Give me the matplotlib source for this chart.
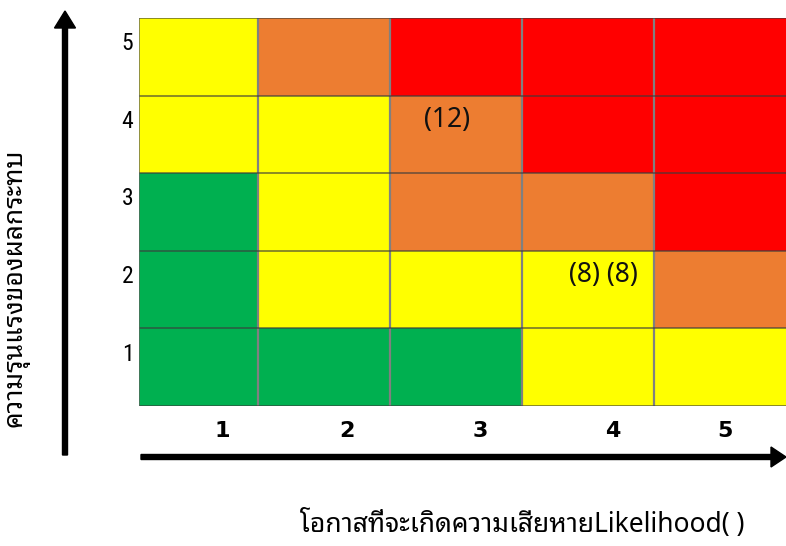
import matplotlib
matplotlib.use("Agg")
import matplotlib.pyplot as plt
import numpy as np
from matplotlib.colors import ListedColormap
from matplotlib.patches import FancyArrow

# risk matrix data: rows = impact 1..5 (bottom to top), cols = likelihood 1..5
likelihood = ["1", "2", "3", "4", "5"]
impact = ["1", "2", "3", "4", "5"]
levels = ["low", "medium", "high", "extreme"]
level_colors = ["#00B050", "#FFFF00", "#ED7D31", "#FF0000"]
risk = [
    ["low", "low", "low", "medium", "medium"],
    ["low", "medium", "medium", "medium", "high"],
    ["low", "medium", "high", "high", "extreme"],
    ["medium", "medium", "high", "extreme", "extreme"],
    ["medium", "high", "extreme", "extreme", "extreme"],
]
notes = ["(12)", "(8) (8)"]
note_cells = [(3, 4), (4, 2)]  # (likelihood, impact)

x_title = "โอกาสที่จะเกิดความเสียหายLikelihood( )"
y_title = "ความรุนแรงของผลกระทบ"

# layout
W, H = 786, 546
col_edges = [0, 0.92, 1.94, 2.96, 3.98, 5.0]
xlabel_pos = [0.64, 1.61, 2.64, 3.66, 4.53]
note_frac = [(0.43, 0.69), (0.62, 0.69)]
thai = ["Noto Sans Thai Looped", "Noto Sans", "DejaVu Sans"]

grid = np.array([[levels.index(v) for v in row] for row in risk])

fig = plt.figure(figsize=(W / 100, H / 100), dpi=100)
ax = fig.add_axes([139 / W, (H - 406) / H, (W - 139) / W, (406 - 18) / H])
ax.pcolormesh(col_edges, np.arange(6), grid, cmap=ListedColormap(level_colors),
              vmin=-0.5, vmax=3.5)
for x in col_edges[1:-1]:
    ax.axvline(x, color="#808080", lw=1.6)
for y in range(0, 6):
    ax.axhline(y, color="#3c3c3c", lw=1.4, alpha=0.6)
ax.axvline(0, color="#606060", lw=1.4, alpha=0.7)
ax.set_xlim(0, 5)
ax.set_ylim(0, 5)
for s in ax.spines.values():
    s.set_visible(False)

ax.set_xticks(xlabel_pos, likelihood, fontsize=16, fontweight="bold")
ax.set_yticks(np.arange(len(impact)) + 0.7, impact, fontsize=17,
              family=["Roboto Condensed", "DejaVu Sans"])
ax.tick_params(axis="x", length=0, pad=11)
ax.tick_params(axis="y", length=0, pad=4)

for txt, (c, r), (fx, fy) in zip(notes, note_cells, note_frac):
    x0 = col_edges[c - 1]
    x1 = col_edges[c]
    ax.text(x0 + fx * (x1 - x0), r - 1 + fy, txt, ha="center", va="center",
            fontsize=19, family=["Noto Sans", "DejaVu Sans"], color="#111111")

# arrows and titles drawn in pixel space
ov = fig.add_axes([0, 0, 1, 1], zorder=-1)
ov.set_xlim(0, W)
ov.set_ylim(H, 0)
ov.axis("off")
ov.add_patch(FancyArrow(65, 455, 0, -444, width=5, head_width=21, head_length=17,
                        length_includes_head=True, color="black"))
ov.add_patch(FancyArrow(141, 457, 645, 0, width=5, head_width=20, head_length=15,
                        length_includes_head=True, color="black"))

fig.text(522 / W, 1 - 525 / H, x_title, ha="center", va="center",
         fontsize=19, family=thai)
fig.text(16 / W, 1 - 288 / H, y_title, ha="center", va="center",
         rotation=90, fontsize=19, family=thai)

fig.savefig("out.png", dpi=100)
